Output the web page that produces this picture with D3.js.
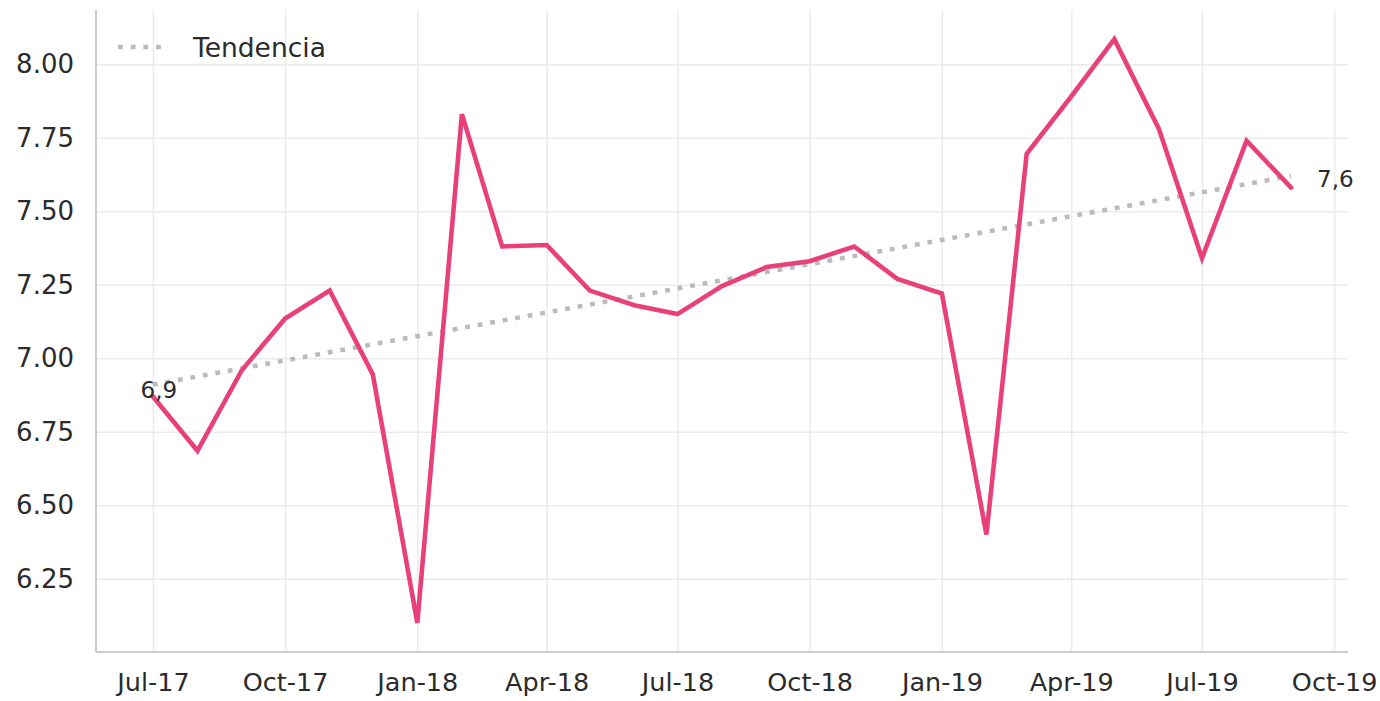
<!DOCTYPE html>
<html>
<head>
<meta charset="utf-8">
<script src="https://cdn.jsdelivr.net/npm/d3@7"></script>
<style>
    body { margin: 0; background: #fff; }
    svg { display: block; }
    text { font-family: "DejaVu Sans", sans-serif; fill: #2b2b2b; }
    .grid line { stroke: #ebebeb; stroke-width: 1.5; }
    .grid path { display: none; }
    .axis path { display: none; }
    .axis line { display: none; }
</style>
</head>
<body>
<div class="chart"></div>
<script>
// monthly values, Jul-17 .. Sep-19
var months = ["2017-07", "2017-08", "2017-09", "2017-10", "2017-11", "2017-12",
    "2018-01", "2018-02", "2018-03", "2018-04", "2018-05", "2018-06",
    "2018-07", "2018-08", "2018-09", "2018-10", "2018-11", "2018-12",
    "2019-01", "2019-02", "2019-03", "2019-04", "2019-05", "2019-06",
    "2019-07", "2019-08", "2019-09"];

var values = [6.87, 6.685, 6.96, 7.135, 7.23, 6.945,
    6.10, 7.83, 7.38, 7.385, 7.23, 7.18,
    7.15, 7.245, 7.31, 7.33, 7.38, 7.27,
    7.22, 6.40, 7.695, 7.89, 8.085, 7.78,
    7.34, 7.74, 7.58];

// trend line end points (first and last month)
var trendValues = [6.91, 7.62];
var trendLabels = ["6,9", "7,6"];
var legendLabel = "Tendencia";

var xTicks = ["2017-07", "2017-10", "2018-01", "2018-04", "2018-07",
    "2018-10", "2019-01", "2019-04", "2019-07", "2019-10"];
var yTicks = [6.25, 6.50, 6.75, 7.00, 7.25, 7.50, 7.75, 8.00];

var parseMonth = d3.timeParse("%Y-%m");

var width = 1380, height = 701;
var margin = { top: 10, right: 32, bottom: 49, left: 96 };
var w = width - margin.left - margin.right,
    h = height - margin.top - margin.bottom;

var data = months.map(function(m, i) {
    return { date: parseMonth(m), value: values[i] };
});

var svg = d3.select(".chart").append("svg")
    .attr("width", width)
    .attr("height", height)
    .append("g")
    .attr("transform", "translate(" + margin.left + "," + margin.top + ")");

// matplotlib-like 5% padding on both axes
var xExt = d3.extent(data, function(d) { return d.date; });
var xPad = (xExt[1] - xExt[0]) * 0.05;
var x = d3.scaleTime()
    .domain([new Date(+xExt[0] - xPad), new Date(+xExt[1] + xPad)])
    .range([0, w]);

var yExt = d3.extent(values);
var yPad = (yExt[1] - yExt[0]) * 0.05;
var y = d3.scaleLinear()
    .domain([yExt[0] - yPad, yExt[1] + yPad])
    .range([h, 0]);

// Grid
svg.append("g")
    .attr("class", "grid")
    .attr("transform", "translate(0," + h + ")")
    .call(d3.axisBottom(x).tickValues(xTicks.map(parseMonth)).tickSize(-h).tickFormat(""));

svg.append("g")
    .attr("class", "grid")
    .call(d3.axisLeft(y).tickValues(yTicks).tickSize(-w).tickFormat(""));

// Axes (labels only)
svg.append("g")
    .attr("class", "axis x-axis")
    .attr("transform", "translate(0," + h + ")")
    .call(d3.axisBottom(x)
        .tickValues(xTicks.map(parseMonth))
        .tickSize(0)
        .tickPadding(21)
        .tickFormat(d3.timeFormat("%b-%y")))
    .selectAll("text")
    .style("font-size", "25.5px")
    .attr("fill", "#2b2b2b");

svg.append("g")
    .attr("class", "axis y-axis")
    .call(d3.axisLeft(y)
        .tickValues(yTicks)
        .tickSize(0)
        .tickPadding(22)
        .tickFormat(d3.format(".2f")))
    .selectAll("text")
    .style("font-size", "26px")
    .attr("fill", "#2b2b2b");

// spines
svg.append("line")
    .attr("x1", 0).attr("x2", 0)
    .attr("y1", 0).attr("y2", h)
    .attr("stroke", "#cccccc").attr("stroke-width", 2);
svg.append("line")
    .attr("x1", 0).attr("x2", w)
    .attr("y1", h).attr("y2", h)
    .attr("stroke", "#cccccc").attr("stroke-width", 2);

// Trend line
var trendData = [
    { date: data[0].date, value: trendValues[0] },
    { date: data[data.length - 1].date, value: trendValues[1] }
];

var line = d3.line()
    .x(function(d) { return x(d.date); })
    .y(function(d) { return y(d.value); });

svg.append("path")
    .datum(trendData)
    .attr("d", line)
    .attr("fill", "none")
    .attr("stroke", "#bbbbbb")
    .attr("stroke-width", 4.5)
    .attr("stroke-dasharray", "4.8,7.9");

// Main line
svg.append("path")
    .datum(data)
    .attr("d", line)
    .attr("fill", "none")
    .attr("stroke", "#e8417a")
    .attr("stroke-width", 4.6)
    .attr("stroke-linejoin", "miter")
    .attr("stroke-linecap", "round");

// trend labels
svg.append("text")
    .attr("x", x(trendData[0].date) + 6)
    .attr("y", y(trendData[0].value) + 5)
    .attr("text-anchor", "middle")
    .attr("dy", "0.36em")
    .style("font-size", "23px")
    .text(trendLabels[0]);

svg.append("text")
    .attr("x", x(trendData[1].date) + 26)
    .attr("y", y(trendData[1].value) + 3)
    .attr("dy", "0.36em")
    .style("font-size", "23px")
    .text(trendLabels[1]);

// Legend
var legend = svg.append("g")
    .attr("transform", "translate(22,37)");

legend.append("line")
    .attr("x1", 0).attr("x2", 46)
    .attr("y1", 0).attr("y2", 0)
    .attr("stroke", "#bbbbbb")
    .attr("stroke-width", 4.5)
    .attr("stroke-dasharray", "4.8,7.9");

legend.append("text")
    .attr("x", 75)
    .attr("y", 0)
    .attr("dy", "0.36em")
    .style("font-size", "26.5px")
    .text(legendLabel);
</script>
</body>
</html>
